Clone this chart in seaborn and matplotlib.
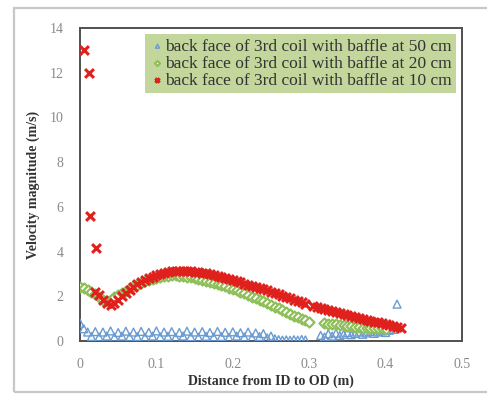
import numpy as np
import pandas as pd
import seaborn as sns
import matplotlib
matplotlib.use("Agg")
import matplotlib.pyplot as plt
from matplotlib.patches import Rectangle

# ---------------- data ----------------
x_grid = [0.000, 0.005, 0.010, 0.015, 0.020, 0.025, 0.030, 0.035, 0.040, 0.045,
          0.050, 0.055, 0.060, 0.065, 0.070, 0.075, 0.080, 0.085, 0.090, 0.095,
          0.100, 0.105, 0.110, 0.115, 0.120, 0.125, 0.130, 0.135, 0.140, 0.145,
          0.150, 0.155, 0.160, 0.165, 0.170, 0.175, 0.180, 0.185, 0.190, 0.195,
          0.200, 0.205, 0.210, 0.215, 0.220, 0.225, 0.230, 0.235, 0.240, 0.245,
          0.250, 0.255, 0.260, 0.265, 0.270, 0.275, 0.280, 0.285, 0.290, 0.295,
          0.300, 0.305, 0.310, 0.315, 0.320, 0.325, 0.330, 0.335, 0.340, 0.345,
          0.350, 0.355, 0.360, 0.365, 0.370, 0.375, 0.380, 0.385, 0.390, 0.395,
          0.400, 0.405, 0.410, 0.415, 0.420]

nan = float("nan")

# baffle at 50 cm (blue triangles)
v50 = [0.80, 0.55, 0.40, 0.20, 0.42, 0.18, 0.40, 0.22, 0.45, 0.17,
       0.38, 0.22, 0.44, 0.18, 0.40, 0.20, 0.43, 0.17, 0.39, 0.22,
       0.45, 0.18, 0.40, 0.21, 0.42, 0.16, 0.38, 0.22, 0.44, 0.19,
       0.40, 0.17, 0.42, 0.21, 0.38, 0.18, 0.43, 0.20, 0.39, 0.16,
       0.41, 0.22, 0.37, 0.18, 0.40, 0.15, 0.36, 0.20, 0.33, 0.14,
       0.22, 0.10, 0.06, 0.04, 0.05, 0.03, 0.06, 0.04, 0.07, 0.05,
       nan, nan, nan, 0.25, 0.18, 0.32, 0.22, 0.35, 0.24, 0.30,
       0.38, 0.28, 0.34, 0.40, 0.30, 0.36, 0.42, 0.34, 0.40, 0.45,
       0.38, 0.48, 0.52, 1.65, nan]

# baffle at 20 cm (green)
v20 = [2.40, 2.35, 2.28, 2.20, 2.10, 1.95, 1.85, 1.80, 1.85, 1.95,
       2.05, 2.15, 2.25, 2.35, 2.44, 2.52, 2.60, 2.67, 2.73, 2.78,
       2.83, 2.87, 2.90, 2.92, 2.93, 2.93, 2.92, 2.90, 2.88, 2.85,
       2.82, 2.78, 2.74, 2.70, 2.65, 2.60, 2.55, 2.50, 2.44, 2.38,
       2.32, 2.26, 2.20, 2.13, 2.06, 1.99, 1.92, 1.85, 1.78, 1.70,
       1.62, 1.54, 1.46, 1.38, 1.30, 1.22, 1.14, 1.07, 1.00, 0.93,
       0.87, nan, nan, nan, 0.80, 0.78, 0.76, 0.74, 0.72, 0.70,
       0.68, 0.66, 0.64, 0.62, 0.60, 0.59, 0.58, 0.57, 0.56, 0.56,
       0.55, nan, nan, nan, nan]

# baffle at 10 cm (red crosses)
v10 = [nan, nan, nan, nan, 2.20, 2.05, 1.85, 1.70, 1.60, 1.70,
       1.85, 2.00, 2.15, 2.30, 2.42, 2.53, 2.63, 2.72, 2.80, 2.88,
       2.95, 3.00, 3.05, 3.08, 3.11, 3.13, 3.14, 3.14, 3.13, 3.12,
       3.10, 3.08, 3.05, 3.02, 2.98, 2.94, 2.90, 2.86, 2.82, 2.77,
       2.72, 2.67, 2.62, 2.57, 2.52, 2.47, 2.42, 2.37, 2.32, 2.27,
       2.21, 2.15, 2.09, 2.03, 1.97, 1.91, 1.85, 1.79, 1.73, 1.67,
       nan, 1.57, 1.52, 1.48, 1.44, 1.40, 1.36, 1.31, 1.26, 1.21,
       1.16, 1.11, 1.07, 1.03, 0.99, 0.95, 0.91, 0.87, 0.83, 0.79,
       0.75, 0.71, 0.67, 0.63, 0.60]
v10_extra_x = [0.005, 0.012, 0.013, 0.021]
v10_extra_y = [13.0, 12.0, 5.6, 4.15]

labels = ["back face of 3rd coil with baffle at 50 cm",
          "back face of 3rd coil with baffle at 20 cm",
          "back face of 3rd coil with baffle at 10 cm"]

x_ticks = [0, 0.1, 0.2, 0.3, 0.4, 0.5]
x_tick_labels = ["0", "0.1", "0.2", "0.3", "0.4", "0.5"]
y_ticks = [0, 2, 4, 6, 8, 10, 12, 14]

# ---------------- build frame ----------------
df50 = pd.DataFrame({"x": x_grid, "v": v50, "s": labels[0]})
df20 = pd.DataFrame({"x": x_grid, "v": v20, "s": labels[1]})
df10 = pd.DataFrame({"x": list(x_grid) + v10_extra_x,
                     "v": list(v10) + v10_extra_y, "s": labels[2]})
df = pd.concat([df50, df20, df10]).dropna()

sns.set_theme(style="white")
plt.rcParams["font.family"] = ["Liberation Serif", "DejaVu Serif"]

fig = plt.figure(figsize=(4.87, 3.98), dpi=100)
ax = fig.add_axes([80 / 487, 1 - 341 / 398, 382 / 487, 313 / 398])

# outer frame
fig.patches.append(Rectangle((14 / 487, 1 - 392 / 398), 1.2, 384 / 398,
                             transform=fig.transFigure, fill=False,
                             edgecolor="#c8c8c8", linewidth=1.6, zorder=0))

sns.scatterplot(data=df[df.s == labels[0]], x="x", y="v", ax=ax,
                marker="^", s=32, facecolor="none", edgecolor="#6a9bd2",
                linewidth=1.0, label=labels[0], zorder=3)
sns.scatterplot(data=df[df.s == labels[1]], x="x", y="v", ax=ax,
                marker="D", s=26, facecolor="white", edgecolor="#8fbf5a",
                linewidth=1.6, label=labels[1], zorder=4)
sns.scatterplot(data=df[df.s == labels[2]], x="x", y="v", ax=ax,
                marker="x", s=40, color="#e0201c",
                linewidth=2.2, label=labels[2], zorder=5)

ax.set_xlim(0, 0.5)
ax.set_ylim(0, 14)
ax.set_xticks(x_ticks)
ax.set_xticklabels(x_tick_labels)
ax.set_yticks(y_ticks)
ax.tick_params(axis="both", labelsize=10, labelcolor="#8a8a8a", colors="#8a8a8a",
               length=3, width=0.8, direction="out")
ax.tick_params(axis="x", length=0, pad=12)
ax.tick_params(axis="y", pad=9)
for side in ["left", "bottom", "top", "right"]:
    ax.spines[side].set_color("#505050")
    ax.spines[side].set_linewidth(1.4)

ax.set_xlabel("Distance from ID to OD (m)", fontsize=10, fontweight="bold",
              color="#333333", labelpad=3)
ax.set_ylabel("Velocity magnitude (m/s)", fontsize=10, fontweight="bold",
              color="#333333", labelpad=7)

leg = ax.legend(loc="upper right", bbox_to_anchor=(0.985, 0.98), fontsize=12.5,
                frameon=True, fancybox=False, borderpad=0.25, labelspacing=0.05,
                handletextpad=0.0, handlelength=0.9, borderaxespad=0.0,
                markerscale=0.5)
leg.get_frame().set_facecolor("#c3d69b")
leg.get_frame().set_edgecolor("none")
leg.get_frame().set_alpha(1)
for t in leg.get_texts():
    t.set_color("#333333")

fig.savefig("out.png", dpi=100)
